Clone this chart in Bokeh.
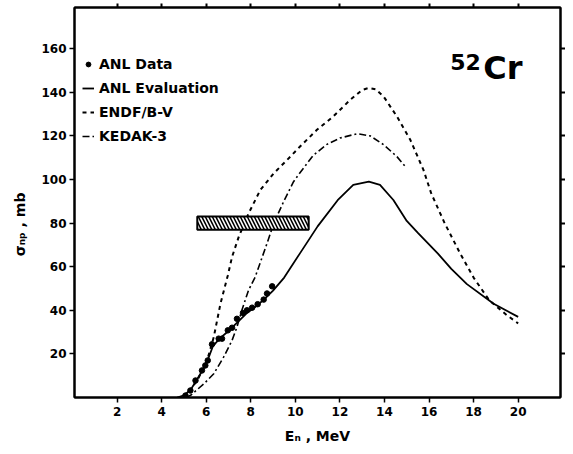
from bokeh.plotting import figure
from bokeh.models import LinearAxis, FixedTicker, Range1d, Legend, LegendItem, Label
from bokeh.embed import file_html
from bokeh.resources import INLINE

# ---- data ----
anl_data_e = [5.07, 5.29, 5.52, 5.81, 5.96, 6.07, 6.26, 6.56, 6.71, 6.97, 7.16,
              7.38, 7.65, 7.83, 8.06, 8.31, 8.58, 8.73, 8.96]
anl_data_s = [0.9, 3.2, 7.8, 12.4, 14.7, 17.0, 24.4, 27.0, 27.0, 30.8, 32.0,
              36.1, 38.8, 40.0, 41.2, 42.8, 44.9, 47.7, 51.0]

eval_e = [4.7, 5.0, 5.3, 5.6, 5.9, 6.1, 6.3, 6.6, 7.0, 7.4, 7.8, 8.2, 8.6, 9.0,
          9.5, 10.2, 11.0, 11.9, 12.6, 13.3, 13.8, 14.4, 15.0, 15.5, 16.4, 17.0,
          17.7, 18.9, 20.0]
eval_s = [0, 1, 3.5, 8.5, 13.5, 18, 23.5, 27, 30.5, 34.5, 38.5, 41.5, 45, 49,
          55, 66, 78.5, 90.5, 97.5, 99, 97.5, 90.6, 81, 75.5, 66, 59, 52, 43, 37]

endf_e = [5.0, 5.14, 5.6, 6.04, 6.34, 6.64, 6.97, 7.16, 7.46, 7.9, 8.43, 9.03,
          9.78, 10.2, 10.97, 11.7, 12.47, 13.0, 13.3, 13.6, 13.96, 14.56, 15.16,
          15.75, 16.1, 16.7, 17.4, 18.0, 18.7, 19.5, 20.0]
endf_s = [0, 1.7, 7.8, 17, 27.7, 43, 56, 64.5, 73.7, 84.4, 95.2, 102.8, 110.5,
          115, 122.8, 128.9, 136.6, 141.1, 142, 141.4, 138.1, 128.9, 118.2,
          104.4, 93.6, 80, 66, 55, 44.6, 37.7, 34]

kedak_e = [5.1, 5.3, 5.9, 6.34, 6.78, 7.16, 7.38, 7.6, 7.9, 8.2, 8.73, 9.03,
           9.48, 9.92, 10.2, 10.8, 11.4, 12.0, 12.77, 13.36, 13.96, 14.56, 14.93]
kedak_s = [0, 1, 6.3, 10.9, 18.5, 26.2, 32.3, 40, 49.2, 55.3, 70.7, 79.8,
           90, 99, 103, 111, 116, 119, 121, 120, 116, 110.5, 106]

bar_e_lo = [5.6]
bar_e_hi = [10.6]
bar_s_lo = [77]
bar_s_hi = [83]

x_ticks = [2, 4, 6, 8, 10, 12, 14, 16, 18, 20]
y_ticks = [20, 40, 60, 80, 100, 120, 140, 160]

FONT = "DejaVu Sans"

p = figure(width=565, height=446, output_backend="svg", toolbar_location=None,
           x_range=Range1d(0.09, 21.9), y_range=Range1d(0, 178.9),
           min_border_left=74, min_border_right=5, min_border_top=7,
           min_border_bottom=49)
p.grid.visible = False
p.outline_line_color = "black"
p.outline_line_width = 2
p.background_fill_color = "white"
p.border_fill_color = "white"

top = LinearAxis(ticker=FixedTicker(ticks=x_ticks),
                 major_label_overrides={t: "" for t in x_ticks},
                 major_tick_in=0, major_tick_out=4, major_tick_line_width=2,
                 minor_tick_line_color=None, axis_line_width=2, major_label_standoff=0)
right = LinearAxis(ticker=FixedTicker(ticks=y_ticks),
                   major_label_overrides={t: "" for t in y_ticks},
                   major_tick_in=0, major_tick_out=5, major_tick_line_width=2,
                   minor_tick_line_color=None, axis_line_width=2, major_label_standoff=0)
p.add_layout(top, "above")
p.add_layout(right, "right")

for ax, ticks in ((p.below[0], x_ticks), (p.left[0], y_ticks)):
    ax.ticker = FixedTicker(ticks=ticks)
    ax.minor_tick_line_color = None
    ax.major_tick_in = 0
    ax.major_tick_out = 5
    ax.major_tick_line_width = 1.5
    ax.axis_line_width = 2
    ax.major_label_text_font = FONT
    ax.major_label_text_font_style = "bold"
    ax.major_label_text_font_size = "12px"
    ax.major_label_text_color = "black"
    ax.axis_label_text_font = FONT
    ax.axis_label_text_font_style = "bold"
    ax.axis_label_text_font_size = "14px"
    ax.axis_label_text_color = "black"

p.below[0].axis_label = "Eₙ , MeV"
p.below[0].major_label_standoff = 4
p.below[0].axis_label_standoff = 9
p.left[0].axis_label = "σₙₚ , mb" + "\u00a0" * 9
p.left[0].major_label_standoff = 3
p.left[0].axis_label_standoff = 10

r_eval = p.line(eval_e, eval_s, line_color="black", line_width=1.8)
r_endf = p.line(endf_e, endf_s, line_color="black", line_width=2, line_dash="4 4")
r_kedak = p.line(kedak_e, kedak_s, line_color="black", line_width=1.6, line_dash="7 3 2 3")

p.quad(left=bar_e_lo, right=bar_e_hi, bottom=bar_s_lo, top=bar_s_hi,
       fill_color="white", line_color="black", line_width=2,
       hatch_pattern="\\", hatch_scale=7, hatch_weight=1.6, hatch_color="black")

r_data = p.scatter(anl_data_e, anl_data_s, size=5.5, marker="circle",
                   fill_color="black", line_color="black")

legend = Legend(items=[
    LegendItem(label="ANL Data", renderers=[r_data]),
    LegendItem(label="ANL Evaluation", renderers=[r_eval]),
    LegendItem(label="ENDF/B-V", renderers=[r_endf]),
    LegendItem(label="KEDAK-3", renderers=[r_kedak]),
], location=(8, 253), margin=0, padding=0, spacing=8,
    glyph_width=12, glyph_height=14, label_height=14, label_standoff=5,
    label_text_font=FONT, label_text_font_style="bold", label_text_font_size="14px",
    label_text_color="black",
    background_fill_alpha=0, border_line_alpha=0)
p.add_layout(legend, "center")

p.add_layout(Label(x=16.95, y=150.3, text="52", text_font=FONT, text_font_style="bold",
                   text_font_size="22px", text_color="black"))
p.add_layout(Label(x=18.43, y=142.3, text="Cr", text_font=FONT, text_font_style="bold",
                   text_font_size="32px", text_color="black"))

open("out.html", "w").write(file_html(p, INLINE))
